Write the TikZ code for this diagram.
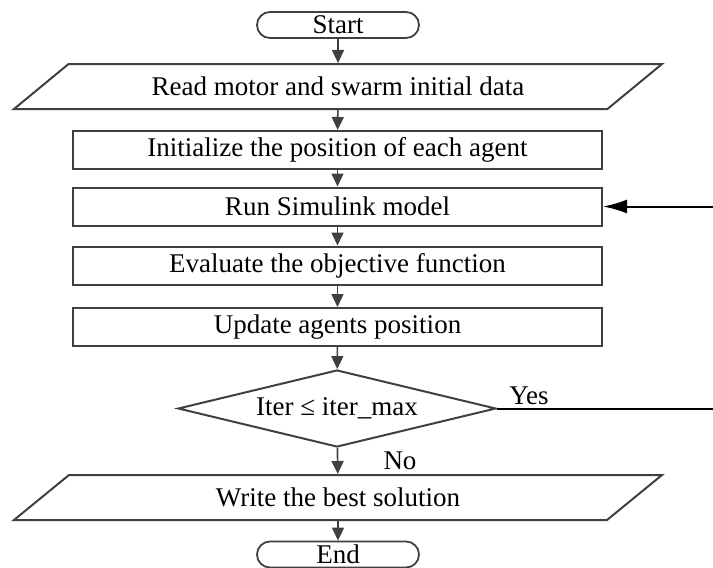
\documentclass[tikz,border=0pt]{standalone}
\usepackage{fontspec}
\setmainfont{Liberation Serif}
\usetikzlibrary{arrows.meta,shapes.geometric,shapes.misc}
\definecolor{edge}{HTML}{404040}

\begin{document}
\begin{tikzpicture}[x=0.5pt,y=-0.5pt,
  font=\fontsize{13.5}{16}\selectfont,
  term/.style={rounded rectangle,draw=edge,line width=0.9pt,minimum width=81pt,minimum height=13pt,inner sep=0pt},
  proc/.style={rectangle,draw=edge,line width=1pt,minimum width=264.5pt,minimum height=19pt,inner sep=0pt},
  io/.style={trapezium,trapezium left angle=19.2,trapezium right angle=160.8,trapezium stretches body,
    draw=edge,line width=1pt,minimum width=324pt,minimum height=22.5pt,inner sep=0pt},
  dec/.style={diamond,aspect=4.1,draw=edge,line width=1pt,minimum width=159pt,minimum height=38.5pt,inner sep=0pt},
  flow/.style={edge,line width=0.8pt,-{Triangle[length=6.5pt,width=6pt]}},
  back/.style={black,line width=1pt,-{Latex[length=12pt,width=7pt]}}
]
  \useasboundingbox (0,0) rectangle (713,568);
  \node[term] (start) at (338,25)    {Start};
  \node[io]   (read)  at (338,86.5)  {Read motor and swarm initial data};
  \node[proc] (init)  at (337.5,150) {Initialize the position of each agent};
  \node[proc] (run)   at (337.5,206.5) {Run Simulink model};
  \node[proc] (eval)  at (337.5,265.5) {Evaluate the objective function};
  \node[proc] (upd)   at (337.5,327) {Update agents position};
  \node[dec]  (check) at (337,408.5) {Iter ≤ iter\_max};
  \node[io]   (write) at (338,497.5) {Write the best solution};
  \node[term] (stop)  at (338,554.5) {End};
  % loop ends run off the right edge
  \coordinate (yesout) at (713,408.5);
  \coordinate (backin) at (713,206.5);
  \node (yes) at (529,396) {Yes};
  \node (no)  at (400,461) {No};
  \draw[flow] (start) -- (read);
  \draw[flow] (read)  -- (init);
  \draw[flow] (init)  -- (run);
  \draw[flow] (run)   -- (eval);
  \draw[flow] (eval)  -- (upd);
  \draw[flow] (upd)   -- (check);
  \draw[flow] (check) -- (write);
  \draw[flow] (write) -- (stop);
  \draw[black,line width=1pt] (check.east) -- (yesout);
  \draw[back] (backin) -- (run.east);
\end{tikzpicture}
\end{document}
